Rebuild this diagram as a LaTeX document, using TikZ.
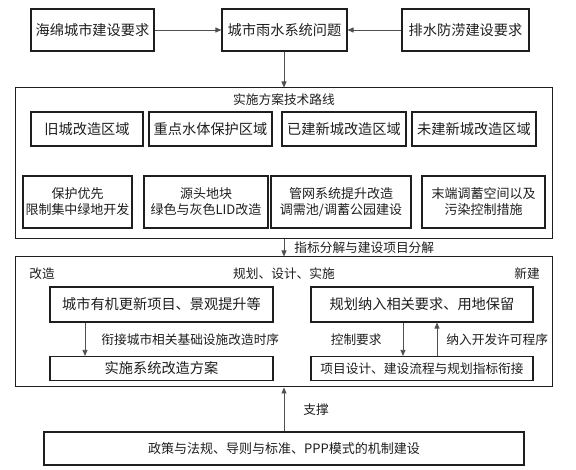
\documentclass[tikz,border=0pt]{standalone}
\usepackage{fontspec}
\usepackage{tikz}
\usetikzlibrary{arrows.meta,positioning,calc}
\newfontfamily\cjk{Noto Sans CJK SC}
\definecolor{ink}{HTML}{1E1E1E}
\definecolor{lgray}{HTML}{505050}
\newcommand{\bigtxt}{\cjk\fontsize{14.2}{17}\selectfont}
\newcommand{\midtxt}{\cjk\fontsize{13}{16}\selectfont}
\newcommand{\smalltxt}{\cjk\fontsize{12.7}{15}\selectfont}

\begin{document}
\begin{tikzpicture}[x=1pt,y=-1pt,
      every node/.style={align=center,text=ink,inner sep=0pt},
      box/.style={draw=ink,line width=1.1pt,font=\bigtxt},
      twoline/.style={draw=ink,line width=1.1pt,font=\midtxt},
      frame/.style={draw=ink,line width=1pt},
      lbl/.style={font=\smalltxt},
      arr/.style={-{Triangle[length=6pt,width=5pt]},lgray,line width=0.8pt}
    ]
      \useasboundingbox[fill=white] (0,0) rectangle (576,470);
      % top row
      \node[box,minimum width=123,minimum height=42] (req1) at (92.5,30) {海绵城市建设要求};
      \node[box,minimum width=125,minimum height=42] (prob) at (284.5,30) {城市雨水系统问题};
      \node[box,minimum width=127,minimum height=42] (req2) at (465.5,30) {排水防涝建设要求};
      % technical route
      \node[frame,minimum width=537,minimum height=151] (route) at (283.5,163.5) {};
      \node[lbl] (rtitle) at (284,100) {实施方案技术路线};
      \node[box,minimum width=112,minimum height=34] (a1) at (87,129) {旧城改造区域};
      \node[box,minimum width=123,minimum height=34] (a2) at (210.5,129) {重点水体保护区域};
      \node[box,minimum width=124,minimum height=34] (a3) at (344,129) {已建新城改造区域};
      \node[box,minimum width=124,minimum height=34] (a4) at (474,129) {未建新城改造区域};
      \node[twoline,minimum width=109,minimum height=52] (b1) at (77.5,202) {保护优先\\限制集中绿地开发};
      \node[twoline,minimum width=124,minimum height=52] (b2) at (206,202) {源头地块\\绿色与灰色LID改造};
      \node[twoline,minimum width=140,minimum height=52] (b3) at (341,202) {管网系统提升改造\\调需池/调蓄公园建设};
      \node[twoline,minimum width=123,minimum height=52] (b4) at (483.5,202) {末端调蓄空间以及\\污染控制措施};
      % planning, design, implementation
      \node[frame,minimum width=537,minimum height=130] (plan) at (283.5,322) {};
      \node[lbl] (reno) at (42,274) {改造};
      \node[lbl] (ptitle) at (284,274) {规划、设计、实施};
      \node[lbl] (newb) at (527,274) {新建};
      \node[box,minimum width=223,minimum height=35] (l1) at (161.5,304.5) {城市有机更新项目、景观提升等};
      \node[box,minimum width=223,minimum height=24] (l2) at (161.5,368.5) {实施系统改造方案};
      \node[box,minimum width=222,minimum height=35] (r1) at (422,304.5) {规划纳入相关要求、用地保留};
      \node[box,minimum width=222,minimum height=24,font=\smalltxt] (r2) at (422,368.5) {项目设计、建设流程与规划指标衔接};
      % policy
      \node[box,minimum width=480,minimum height=33,font=\midtxt] (policy) at (284,448.5) {政策与法规、导则与标准、PPP模式的机制建设};
      \coordinate (lx) at (85,0);
      \coordinate (rdn) at (403,0);
      \coordinate (rup) at (437,0);
      \coordinate (mid) at (284,0);

      \draw[arr] (req1) -- (prob);
      \draw[arr] (req2) -- (prob);
      \draw[arr] (prob.south -| mid) -- (route.north -| mid);
      \draw[arr] (route.south -| mid) -- node[lbl,right=10pt] {指标分解与建设项目分解} (plan.north -| mid);
      \draw[arr] (l1.south -| lx) -- node[lbl,right=16pt,anchor=west] {衔接城市相关基础设施改造时序} (l2.north -| lx);
      \draw[arr] (r1.south -| rdn) -- node[lbl,left=21pt,anchor=east] {控制要求} (r2.north -| rdn);
      \draw[arr] (r2.north -| rup) -- node[lbl,right=9pt,anchor=west] {纳入开发许可程序} (r1.south -| rup);
      \draw[arr] (policy.north -| mid) -- node[lbl,right=19pt,anchor=west] {支撑} (plan.south -| mid);
    \end{tikzpicture}
\end{document}
